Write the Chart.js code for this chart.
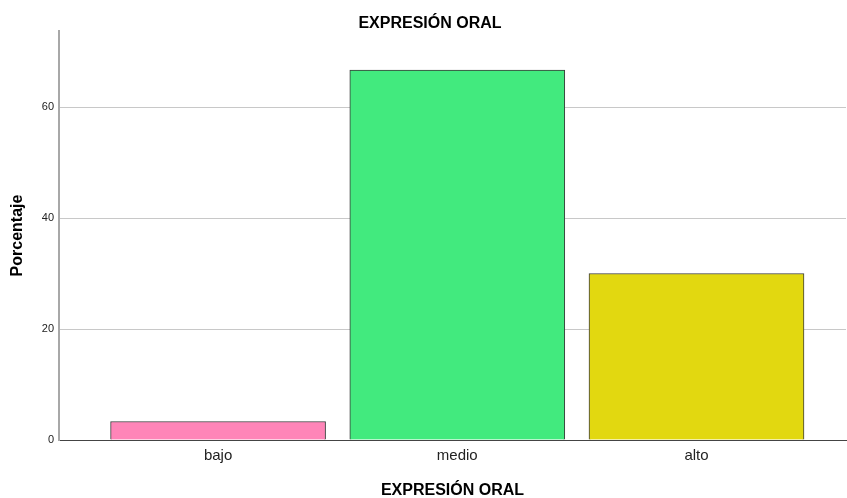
<!DOCTYPE html>
<html>
<head>
<meta charset="utf-8">
<script src="https://cdn.jsdelivr.net/npm/chart.js@4/dist/chart.umd.min.js"></script>
<style>
  html, body { margin: 0; padding: 0; background: #fff; }
  #wrap { width: 847px; height: 498px; }
</style>
</head>
<body>
<div id="wrap"><canvas id="c" width="847" height="498"></canvas></div>
<script>
const chartTitle = 'EXPRESIÓN ORAL';
const xTitle = 'EXPRESIÓN ORAL';
const yTitle = 'Porcentaje';
const categories = ['bajo', 'medio', 'alto'];
const percentages = [3.33, 66.67, 30.0];
const barColors = ['#FF85B8', '#42EA7E', '#E2D810'];
const yTicks = [0, 20, 40, 60];

const FONT = '"Liberation Sans", Arial, sans-serif';

new Chart(document.getElementById('c'), {
  type: 'bar',
  data: {
    datasets: [{
      data: categories.map((c, i) => ({ x: i, y: percentages[i] })),
      backgroundColor: barColors,
      borderColor: '#3A3A3A',
      borderWidth: 1,
      barThickness: 215
    }]
  },
  options: {
    responsive: false,
    animation: false,
    devicePixelRatio: 1,
    layout: { padding: { left: 14, right: 1, top: 0, bottom: 0 } },
    plugins: {
      legend: { display: false },
      tooltip: { enabled: false },
      title: {
        display: true,
        text: chartTitle,
        color: '#000',
        font: { family: FONT, size: 16, weight: 'bold' },
        padding: { top: 13.9, bottom: -2.1 }
      }
    },
    scales: {
      x: {
        type: 'linear',
        offset: false,
        min: -0.665,
        max: 2.625,
        afterBuildTicks: (scale) => { scale.ticks = categories.map((c, i) => ({ value: i })); },
        afterFit: (scale) => { scale.height = 58; },
        grid: { display: false, drawTicks: false, offset: false },
        border: { display: true, color: '#444444', width: 1 },
        ticks: {
          autoSkip: false,
          maxRotation: 0,
          padding: 7,
          color: '#222',
          font: { family: FONT, size: 15 },
          callback: (v) => categories[v]
        },
        title: {
          display: true,
          text: xTitle,
          color: '#000',
          font: { family: FONT, size: 16, weight: 'bold' },
          padding: { top: 0, bottom: -2.5 }
        }
      },
      y: {
        min: 0,
        max: 73.7,
        afterBuildTicks: (scale) => { scale.ticks = yTicks.map(v => ({ value: v })); },
        afterFit: (scale) => { scale.width = 45; },
        grid: {
          drawTicks: false,
          color: (ctx) => (ctx.tick && ctx.tick.value === 0) ? 'rgba(0,0,0,0)' : '#C8C8C8',
          lineWidth: 1
        },
        border: { display: true, color: '#A8A8A8', width: 2 },
        ticks: {
          padding: 5,
          color: '#222',
          font: { family: FONT, size: 11 }
        },
        title: {
          display: true,
          text: yTitle,
          color: '#000',
          font: { family: FONT, size: 16, weight: 'bold' },
          padding: { top: -5.6, bottom: 0 }
        }
      }
    }
  }
});
</script>
</body>
</html>
